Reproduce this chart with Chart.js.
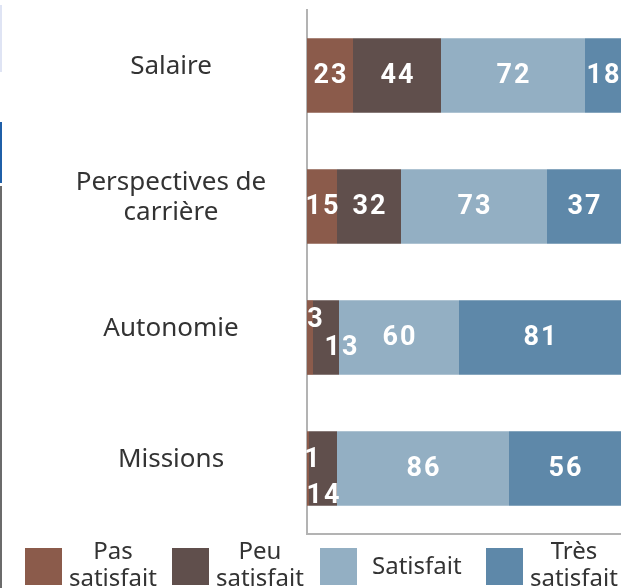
<!DOCTYPE html>
<html>
<head>
<meta charset="utf-8">
<script src="https://cdn.jsdelivr.net/npm/chart.js@4/dist/chart.umd.min.js"></script>
<style>
  html, body { margin: 0; padding: 0; background: #fff; }
  #wrap { position: relative; width: 621px; height: 588px; }
  .edge { position: absolute; left: 0; width: 2px; }
</style>
</head>
<body>
<div id="wrap">
  <canvas id="satisfactionChart" width="621" height="588"></canvas>
  <div class="edge" style="top:5px;height:67px;background:#dfe4f4"></div>
  <div class="edge" style="top:122px;height:61px;background:#1f5fa8"></div>
  <div class="edge" style="top:186px;height:402px;background:#6b6b6b"></div>
</div>
<script>
// catégories et séries
const categories = ['Salaire', ['Perspectives de', 'carrière'], 'Autonomie', 'Missions'];
const pasSatisfait = [23, 15, 3, 1];
const peuSatisfait = [44, 32, 13, 14];
const satisfait = [72, 73, 60, 86];
const tresSatisfait = [18, 37, 81, 56];
const seriesNames = [['Pas', 'satisfait'], ['Peu', 'satisfait'], ['Satisfait'], ['Très', 'satisfait']];
const colors = ['#8b5b4b', '#604f4c', '#93afc3', '#5e88a9'];

// petits décalages pour les étiquettes trop serrées (jeu, index)
const nudges = {
    '0,2': { dx: 5, dy: -18 },
    '1,2': { dx: 15, dy: 10 },
    '0,3': { dx: 4, dy: -9 },
    '1,3': { dx: 0, dy: 27 }
};

// libellés des catégories, centrés dans la marge gauche
const categoryLabels = {
    id: 'categoryLabels',
    afterDraw(chart) {
        const ctx = chart.ctx;
        const y = chart.scales.y;
        ctx.save();
        ctx.font = '26px "Noto Sans"';
        ctx.fillStyle = '#333';
        ctx.textAlign = 'center';
        ctx.textBaseline = 'middle';
        const cx = 171, lh = 30;
        chart.data.labels.forEach((lab, i) => {
            const lines = Array.isArray(lab) ? lab : [lab];
            const cy = y.getPixelForValue(i) - 9;
            lines.forEach((t, k) => {
                ctx.fillText(t, cx, cy + (k - (lines.length - 1) / 2) * lh);
            });
        });
        ctx.restore();
    }
};

const valueLabels = {
    id: 'valueLabels',
    afterDatasetsDraw(chart) {
        const ctx = chart.ctx;
        ctx.save();
        ctx.font = 'bold 27px Roboto';
        ctx.letterSpacing = '2px';
        ctx.fillStyle = '#fff';
        ctx.textAlign = 'center';
        ctx.textBaseline = 'middle';
        chart.data.datasets.forEach((ds, d) => {
            chart.getDatasetMeta(d).data.forEach((bar, i) => {
                const n = nudges[d + ',' + i] || { dx: 0, dy: 0 };
                const x = (bar.x + bar.base) / 2 + n.dx;
                ctx.fillText(String(ds.data[i]), x + 1, bar.y + 1 + n.dy);
            });
        });
        ctx.restore();
    }
};

const bottomLegend = {
    id: 'bottomLegend',
    afterDraw(chart) {
        const ctx = chart.ctx;
        ctx.save();
        ctx.font = '24px "Noto Sans"';
        ctx.textAlign = 'center';
        ctx.textBaseline = 'middle';
        const starts = [25, 172, 320, 486];
        const boxTop = 548, box = 37, midY = 566;
        chart.data.datasets.forEach((ds, d) => {
            const x = starts[d];
            ctx.fillStyle = ds.backgroundColor;
            ctx.fillRect(x, boxTop, box, box);
            const lines = seriesNames[d];
            const w = Math.max(...lines.map(t => ctx.measureText(t).width));
            const gap = lines.length === 1 ? 15 : 7;
            const cx = x + box + gap + w / 2;
            ctx.fillStyle = '#333';
            if (lines.length === 1) {
                ctx.fillText(lines[0], cx, midY + 1);
            } else {
                ctx.fillText(lines[0], cx, midY - 14);
                ctx.fillText(lines[1], cx, midY + 13);
            }
        });
        ctx.restore();
    }
};

new Chart(document.getElementById('satisfactionChart'), {
    type: 'bar',
    data: {
        labels: categories,
        datasets: [
            { label: 'Pas satisfait', data: pasSatisfait, backgroundColor: colors[0] },
            { label: 'Peu satisfait', data: peuSatisfait, backgroundColor: colors[1] },
            { label: 'Satisfait', data: satisfait, backgroundColor: colors[2] },
            { label: 'Très satisfait', data: tresSatisfait, backgroundColor: colors[3] }
        ]
    },
    options: {
        indexAxis: 'y',
        responsive: false,
        animation: false,
        layout: { padding: { top: 10, bottom: 46, left: 0, right: 0 } },
        datasets: { bar: { categoryPercentage: 1, barPercentage: 0.57 } },
        plugins: { legend: { display: false }, tooltip: { enabled: false } },
        scales: {
            x: {
                stacked: true, min: 0, max: 157,
                grid: { display: false },
                ticks: { display: false },
                border: { display: true, color: '#b3b3b3', width: 2 }
            },
            y: {
                stacked: true,
                grid: { display: false },
                border: { display: true, color: '#b3b3b3', width: 2 },
                afterFit(scale) { scale.width = 307; },
                ticks: { display: false }
            }
        }
    },
    plugins: [valueLabels, categoryLabels, bottomLegend]
});
</script>
</body>
</html>
